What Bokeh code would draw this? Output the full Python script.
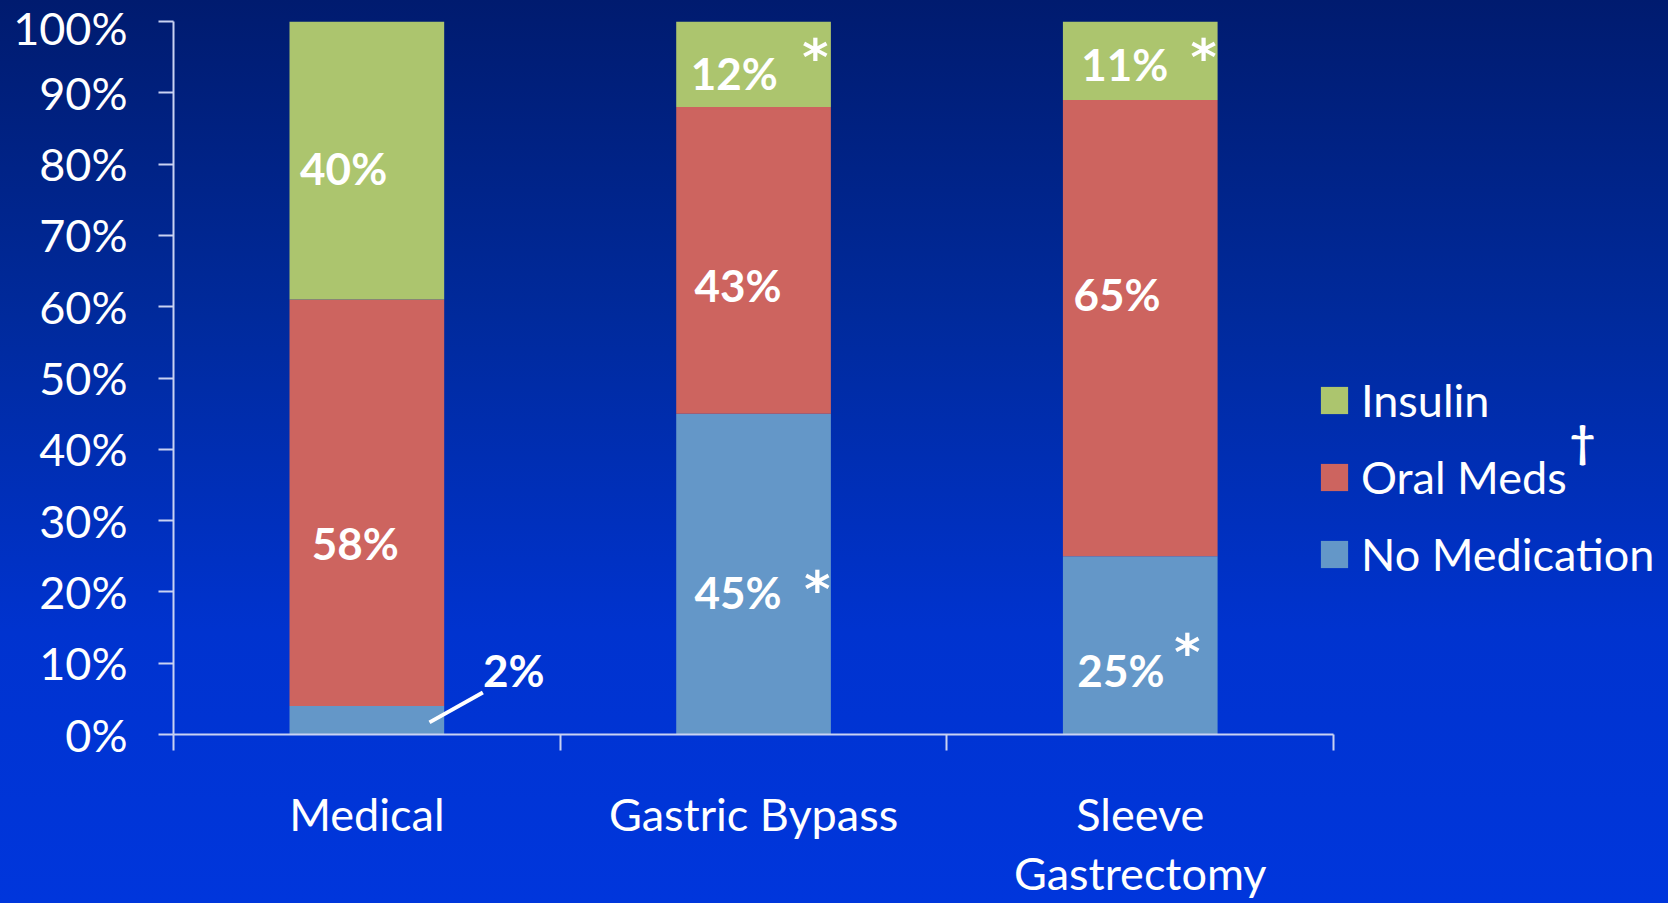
from bokeh.plotting import figure
from bokeh.models import (ColumnDataSource, Range1d, FixedTicker, Legend, LegendItem,
                          Label, PrintfTickFormatter)
from bokeh.core.properties import value
from bokeh.embed import file_html
from bokeh.resources import INLINE

# ---- data ----
categories = ["Medical", "Gastric Bypass", "Sleeve\nGastrectomy"]
no_medication = [0.04, 0.45, 0.25]
oral_meds = [0.57, 0.43, 0.64]
insulin = [0.39, 0.12, 0.11]

label_text = ["40%", "58%", "2%", "12%", "43%", "45%", "11%", "65%", "25%"]
label_x = [0.44, 0.47, 0.88, 1.45, 1.46, 1.46, 2.46, 2.44, 2.45]
label_y = [0.794, 0.268, 0.09, 0.928, 0.631, 0.20, 0.94, 0.618, 0.09]
star_x = [1.66, 1.665, 2.664, 2.622]
star_y = [0.949, 0.203, 0.949, 0.115]

x_pos = [i + 0.5 for i in range(len(categories))]

C_INS = "#acc56e"
C_ORAL = "#cd645f"
C_NOMED = "#6497c8"
FONT = "Lato"
AXIS_COL = "#c9d2f2"

src = ColumnDataSource(dict(x=x_pos, nomed=no_medication, oral=oral_meds, insulin=insulin))

cat_px = 386.7
x_end = (1668 - 173) / cat_px

p = figure(width=1668, height=903, output_backend="svg", toolbar_location=None,
           x_range=Range1d(0, x_end), y_range=Range1d(0, 1),
           min_border_left=173, min_border_right=0, min_border_top=21, min_border_bottom=169)
p.styles = {"background": "linear-gradient(to bottom, #001b6f 0%, #002a9c 35%, #0033cf 70%, #0036dc 100%)"}
p.border_fill_color = None
p.background_fill_color = None
p.outline_line_color = None
p.grid.visible = False

rs = p.vbar_stack(["nomed", "oral", "insulin"], x="x", width=0.4, source=src,
                  color=[C_NOMED, C_ORAL, C_INS], line_color=None)

# axes
xa = p.xaxis[0]
xa.bounds = (0, 3)
xa.ticker = FixedTicker(ticks=x_pos, minor_ticks=[0, 1, 2, 3])
xa.major_label_overrides = {x: c for x, c in zip(x_pos, categories)}
xa.major_tick_out = 0
xa.major_tick_in = 0
xa.minor_tick_out = 16
xa.minor_tick_in = 0
xa.minor_tick_line_color = AXIS_COL
xa.minor_tick_line_width = 2
xa.axis_line_color = AXIS_COL
xa.axis_line_width = 2
xa.major_label_text_color = "white"
xa.major_label_text_font = FONT
xa.major_label_text_font_size = "45px"
xa.major_label_text_line_height = 1.1
xa.major_label_standoff = 36

ya = p.yaxis[0]
ya.ticker = FixedTicker(ticks=[i / 10 for i in range(11)])
ya.formatter = PrintfTickFormatter(format="%d%%")
ya.major_label_overrides = {i / 10: f"{i*10}%" for i in range(11)}
ya.major_tick_out = 15
ya.major_tick_in = 0
ya.minor_tick_line_color = None
ya.major_tick_line_color = AXIS_COL
ya.major_tick_line_width = 2
ya.axis_line_color = AXIS_COL
ya.axis_line_width = 2
ya.major_label_text_color = "white"
ya.major_label_text_font = FONT
ya.major_label_text_font_size = "45px"
ya.major_label_standoff = 31

# value labels
p.text(x=label_x, y=label_y, text=label_text, text_color="white", text_font=value(FONT),
       text_font_style="bold", text_font_size="44px", text_align="center", text_baseline="middle")
p.text(x=star_x, y=star_y, text=["*"] * len(star_x), text_color="white", text_font=value("DejaVu Sans"),
       text_font_style="bold", text_font_size="50px", text_align="center", text_baseline="middle")
# leader line for small 2% segment
p.segment(x0=[0.662], y0=[0.017], x1=[0.80], y1=[0.059], line_color="white", line_width=4)

legend = Legend(items=[LegendItem(label="Insulin", renderers=[rs[2]]),
                       LegendItem(label="Oral Meds", renderers=[rs[1]]),
                       LegendItem(label="No Medication", renderers=[rs[0]])],
                location=(1144, 153), orientation="vertical",
                glyph_width=34, glyph_height=34, label_standoff=10, spacing=23,
                padding=0, margin=0, border_line_color=None, background_fill_alpha=0,
                label_text_color="white", label_text_font=FONT, label_text_font_size="45px")
p.add_layout(legend)

p.add_layout(Label(x=(1582 - 173) / cat_px, y=(734 - 440) / 713, text="†", text_color="white",
                   text_font=FONT, text_font_style="bold", text_font_size="44px",
                   text_align="center", text_baseline="middle"))

open("out.html", "w").write(file_html(p, INLINE))
